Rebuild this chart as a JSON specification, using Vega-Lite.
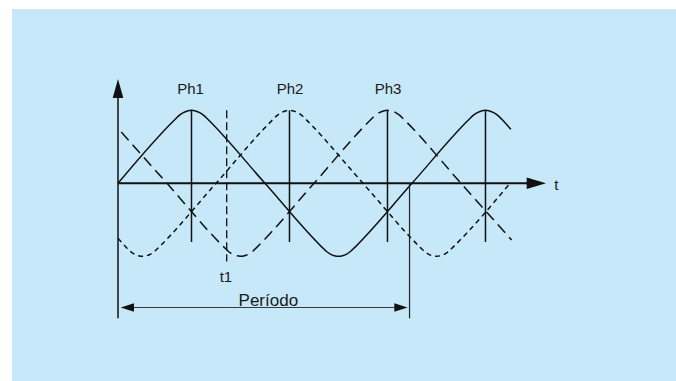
{
  "$schema": "https://vega.github.io/schema/vega-lite/v6.json",
  "width": 664,
  "height": 372,
  "autosize": {"type": "none"},
  "padding": {"left": 12, "top": 9, "right": 0, "bottom": 0},
  "background": "white",
  "config": {
    "view": {"stroke": null, "fill": "#c6e8f8"},
    "text": {"font": "Liberation Sans", "color": "#1a1a1a"}
  },
  "datasets": {
    "waves": [
      {"phase": "Ph1", "t": 0, "v": 0},
      {"phase": "Ph1", "t": 70, "v": 0.877},
      {"phase": "Ph1", "t": 75, "v": 0.931},
      {"phase": "Ph1", "t": 80, "v": 0.969},
      {"phase": "Ph1", "t": 85, "v": 0.992},
      {"phase": "Ph1", "t": 90, "v": 1},
      {"phase": "Ph1", "t": 95, "v": 0.992},
      {"phase": "Ph1", "t": 100, "v": 0.969},
      {"phase": "Ph1", "t": 105, "v": 0.931},
      {"phase": "Ph1", "t": 110, "v": 0.877},
      {"phase": "Ph1", "t": 180, "v": 0},
      {"phase": "Ph1", "t": 250, "v": -0.877},
      {"phase": "Ph1", "t": 255, "v": -0.931},
      {"phase": "Ph1", "t": 260, "v": -0.969},
      {"phase": "Ph1", "t": 265, "v": -0.992},
      {"phase": "Ph1", "t": 270, "v": -1},
      {"phase": "Ph1", "t": 275, "v": -0.992},
      {"phase": "Ph1", "t": 280, "v": -0.969},
      {"phase": "Ph1", "t": 285, "v": -0.931},
      {"phase": "Ph1", "t": 290, "v": -0.877},
      {"phase": "Ph1", "t": 360, "v": 0},
      {"phase": "Ph1", "t": 430, "v": 0.877},
      {"phase": "Ph1", "t": 435, "v": 0.931},
      {"phase": "Ph1", "t": 440, "v": 0.969},
      {"phase": "Ph1", "t": 445, "v": 0.992},
      {"phase": "Ph1", "t": 450, "v": 1},
      {"phase": "Ph1", "t": 455, "v": 0.992},
      {"phase": "Ph1", "t": 460, "v": 0.969},
      {"phase": "Ph1", "t": 465, "v": 0.931},
      {"phase": "Ph1", "t": 470, "v": 0.877},
      {"phase": "Ph1", "t": 481, "v": 0.739},

      {"phase": "Ph2", "t": 0, "v": -0.752},
      {"phase": "Ph2", "t": 10, "v": -0.877},
      {"phase": "Ph2", "t": 15, "v": -0.931},
      {"phase": "Ph2", "t": 20, "v": -0.969},
      {"phase": "Ph2", "t": 25, "v": -0.992},
      {"phase": "Ph2", "t": 30, "v": -1},
      {"phase": "Ph2", "t": 35, "v": -0.992},
      {"phase": "Ph2", "t": 40, "v": -0.969},
      {"phase": "Ph2", "t": 45, "v": -0.931},
      {"phase": "Ph2", "t": 50, "v": -0.877},
      {"phase": "Ph2", "t": 120, "v": 0},
      {"phase": "Ph2", "t": 190, "v": 0.877},
      {"phase": "Ph2", "t": 195, "v": 0.931},
      {"phase": "Ph2", "t": 200, "v": 0.969},
      {"phase": "Ph2", "t": 205, "v": 0.992},
      {"phase": "Ph2", "t": 210, "v": 1},
      {"phase": "Ph2", "t": 215, "v": 0.992},
      {"phase": "Ph2", "t": 220, "v": 0.969},
      {"phase": "Ph2", "t": 225, "v": 0.931},
      {"phase": "Ph2", "t": 230, "v": 0.877},
      {"phase": "Ph2", "t": 300, "v": 0},
      {"phase": "Ph2", "t": 370, "v": -0.877},
      {"phase": "Ph2", "t": 375, "v": -0.931},
      {"phase": "Ph2", "t": 380, "v": -0.969},
      {"phase": "Ph2", "t": 385, "v": -0.992},
      {"phase": "Ph2", "t": 390, "v": -1},
      {"phase": "Ph2", "t": 395, "v": -0.992},
      {"phase": "Ph2", "t": 400, "v": -0.969},
      {"phase": "Ph2", "t": 405, "v": -0.931},
      {"phase": "Ph2", "t": 410, "v": -0.877},
      {"phase": "Ph2", "t": 480, "v": 0},

      {"phase": "Ph3", "t": 4, "v": 0.702},
      {"phase": "Ph3", "t": 60, "v": 0},
      {"phase": "Ph3", "t": 130, "v": -0.877},
      {"phase": "Ph3", "t": 135, "v": -0.931},
      {"phase": "Ph3", "t": 140, "v": -0.969},
      {"phase": "Ph3", "t": 145, "v": -0.992},
      {"phase": "Ph3", "t": 150, "v": -1},
      {"phase": "Ph3", "t": 155, "v": -0.992},
      {"phase": "Ph3", "t": 160, "v": -0.969},
      {"phase": "Ph3", "t": 165, "v": -0.931},
      {"phase": "Ph3", "t": 170, "v": -0.877},
      {"phase": "Ph3", "t": 240, "v": 0},
      {"phase": "Ph3", "t": 310, "v": 0.877},
      {"phase": "Ph3", "t": 315, "v": 0.931},
      {"phase": "Ph3", "t": 320, "v": 0.969},
      {"phase": "Ph3", "t": 325, "v": 0.992},
      {"phase": "Ph3", "t": 330, "v": 1},
      {"phase": "Ph3", "t": 335, "v": 0.992},
      {"phase": "Ph3", "t": 340, "v": 0.969},
      {"phase": "Ph3", "t": 345, "v": 0.931},
      {"phase": "Ph3", "t": 350, "v": 0.877},
      {"phase": "Ph3", "t": 420, "v": 0},
      {"phase": "Ph3", "t": 482, "v": -0.777}
    ]
  },
  "encoding": {
    "x": {"type": "quantitative", "scale": {"domain": [-129.8, 683.3], "nice": false, "zero": false}, "axis": null},
    "y": {"type": "quantitative", "scale": {"domain": [-2.708, 2.388], "nice": false, "zero": false}, "axis": null}
  },
  "layer": [
    {
      "data": {"name": "waves"},
      "transform": [{"filter": "datum.phase === 'Ph1'"}],
      "mark": {"type": "line", "interpolate": "monotone", "color": "#111", "strokeWidth": 1.5},
      "encoding": {"x": {"field": "t"}, "y": {"field": "v"}, "order": {"field": "t"}}
    },
    {
      "data": {"name": "waves"},
      "transform": [{"filter": "datum.phase === 'Ph2'"}],
      "mark": {"type": "line", "interpolate": "monotone", "color": "#111", "strokeWidth": 1.5, "strokeDash": [5, 4]},
      "encoding": {"x": {"field": "t"}, "y": {"field": "v"}, "order": {"field": "t"}}
    },
    {
      "data": {"name": "waves"},
      "transform": [{"filter": "datum.phase === 'Ph3'"}],
      "mark": {"type": "line", "interpolate": "monotone", "color": "#111", "strokeWidth": 1.5, "strokeDash": [11, 6]},
      "encoding": {"x": {"field": "t"}, "y": {"field": "v"}, "order": {"field": "t"}}
    },
    {
      "data": {"values": [{"t": 90}, {"t": 210}, {"t": 330}, {"t": 450}]},
      "mark": {"type": "rule", "color": "#111", "strokeWidth": 1.5},
      "encoding": {"x": {"field": "t"}, "y": {"datum": 1.0}, "y2": {"datum": -0.804}}
    },
    {
      "data": {"values": [{"t": 133.1, "top": 1.0, "bottom": -1.07}]},
      "mark": {"type": "rule", "color": "#111", "strokeWidth": 1.3, "strokeDash": [8, 4]},
      "encoding": {"x": {"field": "t"}, "y": {"field": "top"}, "y2": {"field": "bottom"}}
    },
    {
      "data": {"values": [{"x0": 0, "x1": 505, "y": 0}]},
      "mark": {"type": "rule", "color": "#111", "strokeWidth": 2},
      "encoding": {"x": {"field": "x0"}, "x2": {"field": "x1"}, "y": {"field": "y"}}
    },
    {
      "data": {"values": [{"x": 0, "y0": -1.85, "y1": 1.2}]},
      "mark": {"type": "rule", "color": "#111", "strokeWidth": 1.5},
      "encoding": {"x": {"field": "x"}, "y": {"field": "y0"}, "y2": {"field": "y1"}}
    },
    {
      "data": {"values": [{"x": 357, "y0": 0, "y1": -1.85}]},
      "mark": {"type": "rule", "color": "#222", "strokeWidth": 1.2},
      "encoding": {"x": {"field": "x"}, "y": {"field": "y0"}, "y2": {"field": "y1"}}
    },
    {
      "data": {"values": [{"x0": 8, "x1": 350, "y": -1.701}]},
      "mark": {"type": "rule", "color": "#3a3a3a", "strokeWidth": 1.2},
      "encoding": {"x": {"field": "x0"}, "x2": {"field": "x1"}, "y": {"field": "y"}}
    },
    {
      "data": {"values": [{"x": 0, "y": 1.299}]},
      "mark": {"type": "point", "shape": "M0,-1L-0.56,1L0.56,1Z", "size": 361, "filled": true, "color": "#111", "opacity": 1},
      "encoding": {"x": {"field": "x"}, "y": {"field": "y"}}
    },
    {
      "data": {"values": [{"x": 512.3, "y": 0}]},
      "mark": {"type": "point", "shape": "M1,0L-1,-0.6L-1,0.6Z", "size": 372, "filled": true, "color": "#111", "opacity": 1},
      "encoding": {"x": {"field": "x"}, "y": {"field": "y"}}
    },
    {
      "data": {"values": [{"x": 11.45, "y": -1.701}]},
      "mark": {"type": "point", "shape": "M-1,0L1,-0.63L1,0.63Z", "size": 177, "filled": true, "color": "#111", "opacity": 1},
      "encoding": {"x": {"field": "x"}, "y": {"field": "y"}}
    },
    {
      "data": {"values": [{"x": 346.5, "y": -1.701}]},
      "mark": {"type": "point", "shape": "M1,0L-1,-0.63L-1,0.63Z", "size": 177, "filled": true, "color": "#111", "opacity": 1},
      "encoding": {"x": {"field": "x"}, "y": {"field": "y"}}
    },
    {
      "data": {"values": [
        {"x": 88.8, "y": 1.223, "label": "Ph1"},
        {"x": 210.6, "y": 1.223, "label": "Ph2"},
        {"x": 330.6, "y": 1.223, "label": "Ph3"},
        {"x": 132.2, "y": -1.356, "label": "t1"},
        {"x": 536.9, "y": -0.092, "label": "t"}
      ]},
      "mark": {"type": "text", "fontSize": 15, "baseline": "alphabetic", "align": "center"},
      "encoding": {"x": {"field": "x"}, "y": {"field": "y"}, "text": {"field": "label"}}
    },
    {
      "data": {"values": [{"x": 184.1, "y": -1.677, "label": "Período"}]},
      "mark": {"type": "text", "fontSize": 17, "baseline": "alphabetic", "align": "center"},
      "encoding": {"x": {"field": "x"}, "y": {"field": "y"}, "text": {"field": "label"}}
    }
  ]
}
